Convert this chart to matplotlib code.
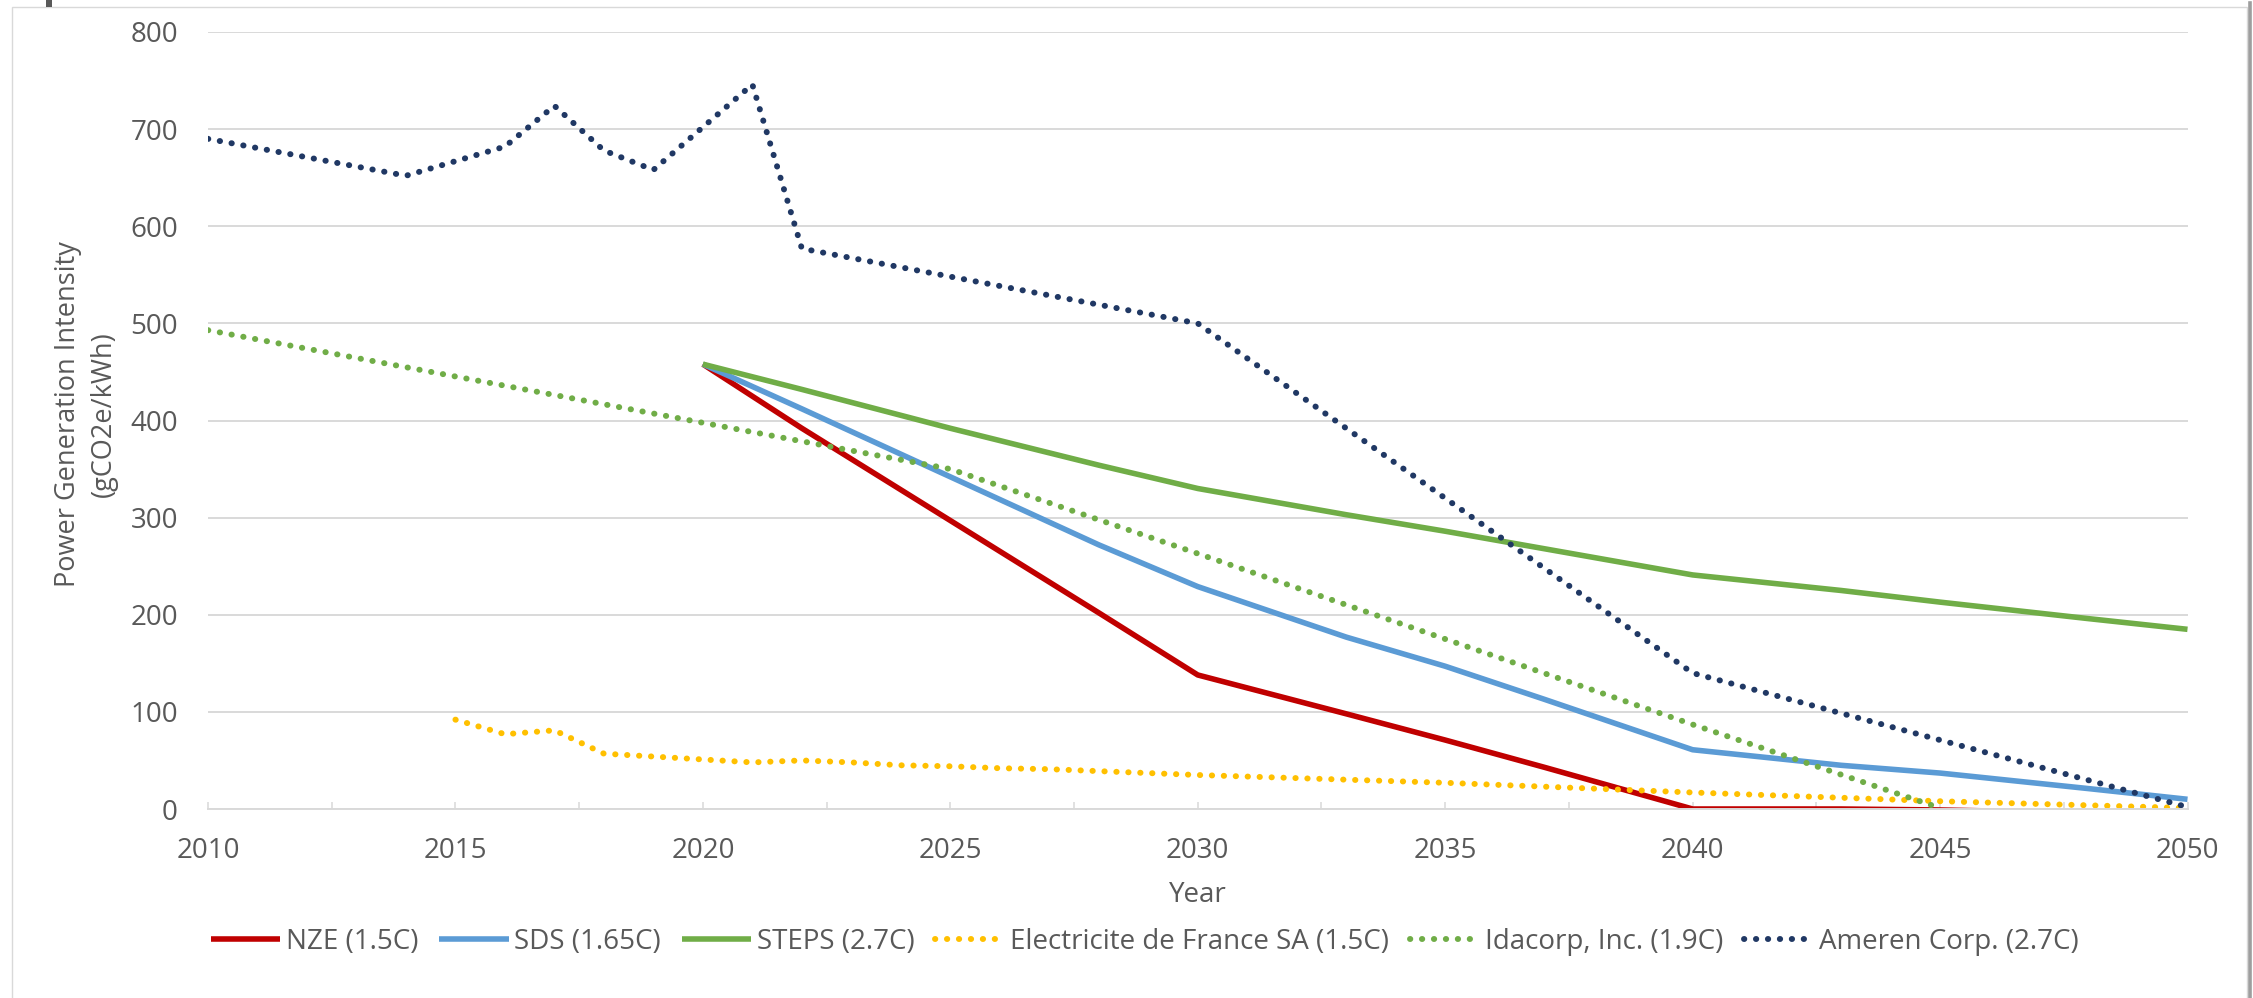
import numpy as np
import matplotlib.pyplot as plt
from matplotlib.patches import Rectangle
from matplotlib.lines import Line2D

plt.rcParams["font.family"] = ["Open Sans", "DejaVu Sans"]

TEXT = "#595959"
GRID = "#D9D9D9"

# IEA scenario pathways (gCO2e/kWh)
iea_years = [2020, 2022, 2025, 2028, 2030, 2033, 2035, 2037, 2040, 2043, 2045, 2048, 2050]
nze = [458, 392, 297, 202, 138, 98, 71, 43, 0, 0, -1, -4, -6]
sds = [458, 412, 342, 272, 229, 177, 147, 113, 61, 45, 37, 21, 10]
steps = [458, 432, 392, 354, 330, 303, 286, 268, 241, 225, 213, 196, 185]

# company targets / disclosed intensities
edf_years = [2015, 2016, 2017, 2018, 2019, 2020, 2021, 2022, 2023, 2024, 2025,
             2026, 2027, 2028, 2029, 2030, 2035, 2040, 2045, 2050]
edf = [92, 77, 81, 57, 54, 51, 48, 50, 48, 45, 44,
       42, 41, 39, 37, 35, 27, 17, 8, 1]

idacorp_years = [2010, 2025, 2030, 2040, 2045]
idacorp = [493, 350, 263, 87, 1]

ameren_years = [2010, 2014, 2016, 2017, 2018, 2019, 2020, 2021, 2022, 2030, 2040, 2050]
ameren = [690, 652, 682, 724, 678, 658, 702, 746, 577, 500, 140, 2]

solid = [
    ("NZE (1.5C)", iea_years, nze, "#C00000"),
    ("SDS (1.65C)", iea_years, sds, "#5B9BD5"),
    ("STEPS (2.7C)", iea_years, steps, "#70AD47"),
]
dotted = [
    ("Electricite de France SA (1.5C)", edf_years, edf, "#FFC000"),
    ("Idacorp, Inc. (1.9C)", idacorp_years, idacorp, "#70AD47"),
    ("Ameren Corp. (2.7C)", ameren_years, ameren, "#203864"),
]

W, H = 2253, 998
fig = plt.figure(figsize=(W / 100, H / 100), dpi=100)
ax = fig.add_axes([208 / W, 1 - 809 / H, (2187.5 - 208) / W, (809 - 32) / H])

for label, x, y, color in solid:
    ax.plot(x, y, color=color, lw=4.0, label=label,
            solid_joinstyle="round", solid_capstyle="butt")
for label, x, y, color in dotted:
    ax.plot(x, y, color=color, lw=4.3, label=label,
            linestyle=(0, (0.05, 1.95)), dash_capstyle="round")

ax.set_xlim(2010, 2050)
ax.set_ylim(0, 800)
xt = np.arange(2010, 2050.1, 2.5)
ax.set_xticks(xt)
ax.set_xticklabels([str(int(t)) if t % 5 == 0 else "" for t in xt])
ax.set_yticks(range(0, 801, 100))

ax.tick_params(axis="x", direction="in", length=5, width=1.1, color=GRID,
               pad=20, labelsize=20, labelcolor=TEXT)
ax.tick_params(axis="y", length=0, pad=21.6, labelsize=20, labelcolor=TEXT)
ax.grid(axis="y", color=GRID, lw=1.4)
ax.set_axisbelow(True)
for side in ("top", "right", "left"):
    ax.spines[side].set_visible(False)
ax.spines["bottom"].set_color(GRID)
ax.spines["bottom"].set_linewidth(1.4)

fig.text(86 / W, 1 - 414 / H, "Power Generation Intensity\n(gCO2e/kWh)",
         rotation=90, ha="center", va="center", multialignment="center",
         fontsize=19.5, color=TEXT, linespacing=1.35)
fig.text(1198 / W, 1 - 895 / H, "Year", ha="center", va="center",
         fontsize=20, color=TEXT)

fig.legend(loc="center", bbox_to_anchor=(1145 / W, 1 - 942 / H), ncol=6,
           frameon=False, fontsize=20, handlelength=2.5, handletextpad=0.2,
           columnspacing=0.75, labelcolor=TEXT)

# chart frame
fig.add_artist(Rectangle((12 / W, -0.01), (2247 - 12) / W, 1.01 - 6.7 / H,
                         transform=fig.transFigure, fill=False,
                         edgecolor=GRID, lw=1.0))
fig.add_artist(Line2D([2249.5 / W] * 2, [0, 1 - 3 / H], transform=fig.transFigure,
                      color="#9E9E9E", lw=2.6))
fig.add_artist(Rectangle((46 / W, 1 - 6.7 / H), 6 / W, 6.7 / H,
                         transform=fig.transFigure, color=TEXT, lw=0))

fig.savefig("out.png", dpi=100)
